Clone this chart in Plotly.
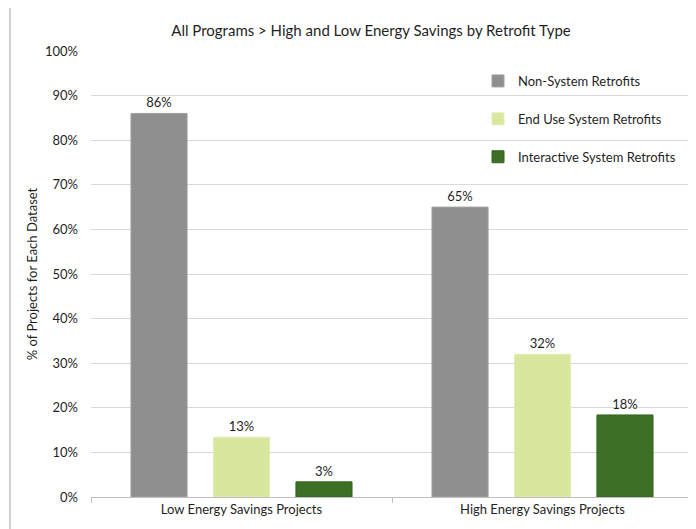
import plotly.graph_objects as go

categories = ["Low Energy Savings Projects", "High Energy Savings Projects"]
series_names = ["Non-System Retrofits", "End Use System Retrofits", "Interactive System Retrofits"]
non_system = [86, 65]
end_use = [13.4, 32]
interactive = [3.4, 18.4]
y_ticks = [0, 10, 20, 30, 40, 50, 60, 70, 80, 90, 100]
y_tick_labels = [f"{v}%" for v in y_ticks]

colors = ["#8f8f8f", "#d8e79e", "#3c7125"]
edge_colors = ["#a0a0a0", "#e2edb5", "#356420"]
FONT = "Lato"
TXT = "#1f1f1f"
FS = 13

# page body has an 8px margin; figure drawn from (8, 8)
OFF = 8
FIG_W, FIG_H = 685, 521
PL, PR, PT, PB = 91, 693, 51, 497  # plot area in screen pixels


def px_x(p):
    return (p - PL) / float(PR - PL)


def px_y(p):
    return (PB - p) / float(PB - PT)


fig = go.Figure()
for name, vals, c, ec in zip(series_names, [non_system, end_use, interactive], colors, edge_colors):
    fig.add_trace(go.Bar(
        x=categories, y=vals, name=name, legendgroup=name,
        marker=dict(color=c, line=dict(color=ec, width=1)),
        texttemplate="%{y:.0f}%", textposition="outside",
        textfont=dict(family=FONT, size=FS, color=TXT),
        cliponaxis=False,
    ))

# outer chart border (left and top edges visible)
fig.add_shape(type="line", xref="paper", yref="paper",
              x0=px_x(10), x1=px_x(10), y0=px_y(5), y1=px_y(540),
              line=dict(color="#d0d0d0", width=2))
fig.add_shape(type="line", xref="paper", yref="paper",
              x0=px_x(10), x1=px_x(700), y0=px_y(5), y1=px_y(5),
              line=dict(color="#d0d0d0", width=2))

fig.update_layout(
    width=FIG_W, height=FIG_H,
    margin=dict(l=PL - OFF, r=FIG_W - (PR - OFF), t=PT - OFF, b=FIG_H - (PB - OFF)),
    paper_bgcolor="white", plot_bgcolor="white",
    font=dict(family=FONT, size=FS, color=TXT),
    title=dict(text="All Programs > High and Low Energy Savings by Retrofit Type",
               x=(371 - OFF) / FIG_W, xref="container", xanchor="center",
               y=1 - (31 - OFF) / FIG_H, yref="container", yanchor="middle",
               font=dict(family=FONT, size=15, color=TXT)),
    barmode="group", bargap=0.178, bargroupgap=0.32,
    legend=dict(x=px_x(478), y=px_y(66), xanchor="left", yanchor="top",
                bgcolor="rgba(0,0,0,0)", tracegroupgap=18,
                font=dict(family=FONT, size=FS, color=TXT)),
    showlegend=True,
)
fig.update_xaxes(
    showline=True, linecolor="#bfbfbf", linewidth=1,
    ticks="outside", tickson="boundaries", ticklen=5, tickcolor="#bfbfbf",
    tickfont=dict(family=FONT, size=FS, color=TXT),
    showgrid=False, automargin=False,
)
fig.update_yaxes(
    range=[0, 100], tickvals=y_ticks, ticktext=y_tick_labels,
    showgrid=True, gridcolor="#d9d9d9", gridwidth=1,
    zeroline=False, ticks="", ticklabelstandoff=12,
    tickfont=dict(family=FONT, size=FS, color=TXT),
    title=dict(text="% of Projects for Each Dataset", standoff=4,
               font=dict(family=FONT, size=FS, color=TXT)),
    automargin=False,
)

fig.write_html("out.html")
